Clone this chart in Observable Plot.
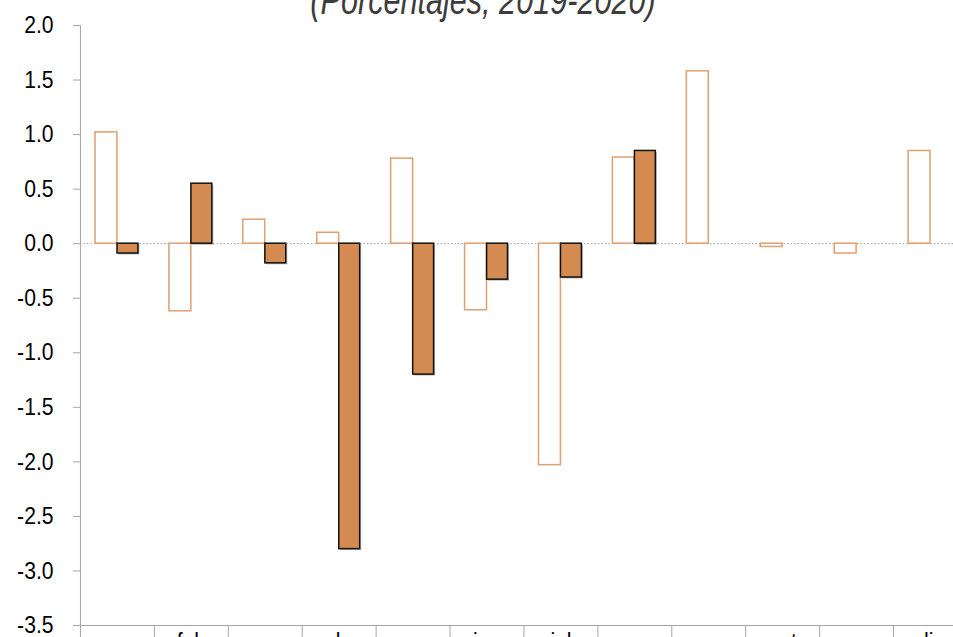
<!DOCTYPE html>
<html>
<head>
<meta charset="utf-8">
<script src="https://cdn.jsdelivr.net/npm/d3@7"></script>
<script src="https://cdn.jsdelivr.net/npm/@observablehq/plot@0.6"></script>
<style>
  html, body { margin: 0; padding: 0; background: #fff; overflow: hidden; width: 953px; height: 637px; }
  #wrap { position: relative; width: 1000px; }
  #title { position: absolute; left: 0; width: 966px; top: -20px; text-align: center; z-index: 2;
           font-family: "Liberation Sans", Arial, sans-serif;
           font-style: italic; font-size: 40px; line-height: 40px; color: #3c3c3c; white-space: nowrap;
           transform: scaleX(0.765); transform-origin: 483px 50%; }
  #chart { position: absolute; left: 0; top: 0; z-index: 1; }
</style>
</head>
<body>
<div id="wrap">
  <div id="title">(Porcentajes, 2019-2020)</div>
  <div id="chart"></div>
</div>
<script>
const months = ["ene","feb","mar","abr","may","jun","jul","ago","sep","oct","nov","dic"];
const v2019 = [1.02, -0.62, 0.22, 0.10, 0.78, -0.61, -2.03, 0.79, 1.58, -0.03, -0.09, 0.85];
const v2020 = [-0.09, 0.55, -0.18, -2.80, -1.20, -0.33, -0.31, 0.85, null, null, null, null];
const yTicks = [2.0, 1.5, 1.0, 0.5, 0.0, -0.5, -1.0, -1.5, -2.0, -2.5, -3.0, -3.5];

const rows2019 = months.map((m, i) => ({month: m, value: v2019[i]}));
const rows2020 = months.map((m, i) => ({month: m, value: v2020[i]})).filter(d => d.value != null);

const font = '"Liberation Sans", Arial, sans-serif';
const axisGray = "#a6a6a6";

const chart = Plot.plot({
  width: 1000,
  height: 680,
  marginLeft: 80,
  marginRight: 33,
  marginTop: 25,
  marginBottom: 55,
  style: {fontFamily: font, fontSize: "24px", color: "#000", background: "#fff"},
  x: {domain: months, padding: 0, round: false, axis: null},
  y: {domain: [-3.5, 2.0], axis: null},
  marks: [
    Plot.ruleY([0], {stroke: "#999", strokeDasharray: "1.5,2", strokeWidth: 1}),
    Plot.barY(rows2019, {x: "month", y: "value", fill: "white", stroke: "#E0A06F", strokeWidth: 1.5, insetLeft: 15, insetRight: 37}),
    Plot.barY(rows2020, {x: "month", y: "value", fill: "#646464", fillOpacity: 0.45, insetLeft: 38.5, insetRight: 14.5, dy: 1.5}),
    Plot.barY(rows2020, {x: "month", y: "value", fill: "#D48B52", stroke: "#111", strokeWidth: 1.5, insetLeft: 37, insetRight: 16}),
    Plot.ruleX([months[0]], {y1: 2.0, y2: -3.5, dx: -37, stroke: axisGray, strokeWidth: 1}),
    Plot.ruleY([-3.5], {stroke: axisGray, strokeWidth: 1}),
    Plot.axisY({ticks: yTicks, tickSize: 7, tickPadding: 20, stroke: axisGray, fill: "#000",
                tickFormat: d => d.toFixed(1), label: null, fontSize: 24}),
    Plot.axisX({tickSize: 0, tickPadding: 7, fill: "#000", label: null, fontSize: 24}),
    Plot.axisX({tickSize: 25, text: null, dx: -37, stroke: axisGray, label: null})
  ]
});
// condense the tick labels horizontally (narrow-font look), keeping their anchor point
chart.querySelectorAll("text").forEach(t => {
  const xa = t.getAttribute("x");
  let x = 0;
  if (xa != null && !isNaN(+xa)) { x = +xa; t.removeAttribute("x"); }
  const tr = t.getAttribute("transform") || "";
  t.setAttribute("transform", `${tr} translate(${x},0) scale(0.88,1)`);
});
document.getElementById("chart").appendChild(chart);
</script>
</body>
</html>
